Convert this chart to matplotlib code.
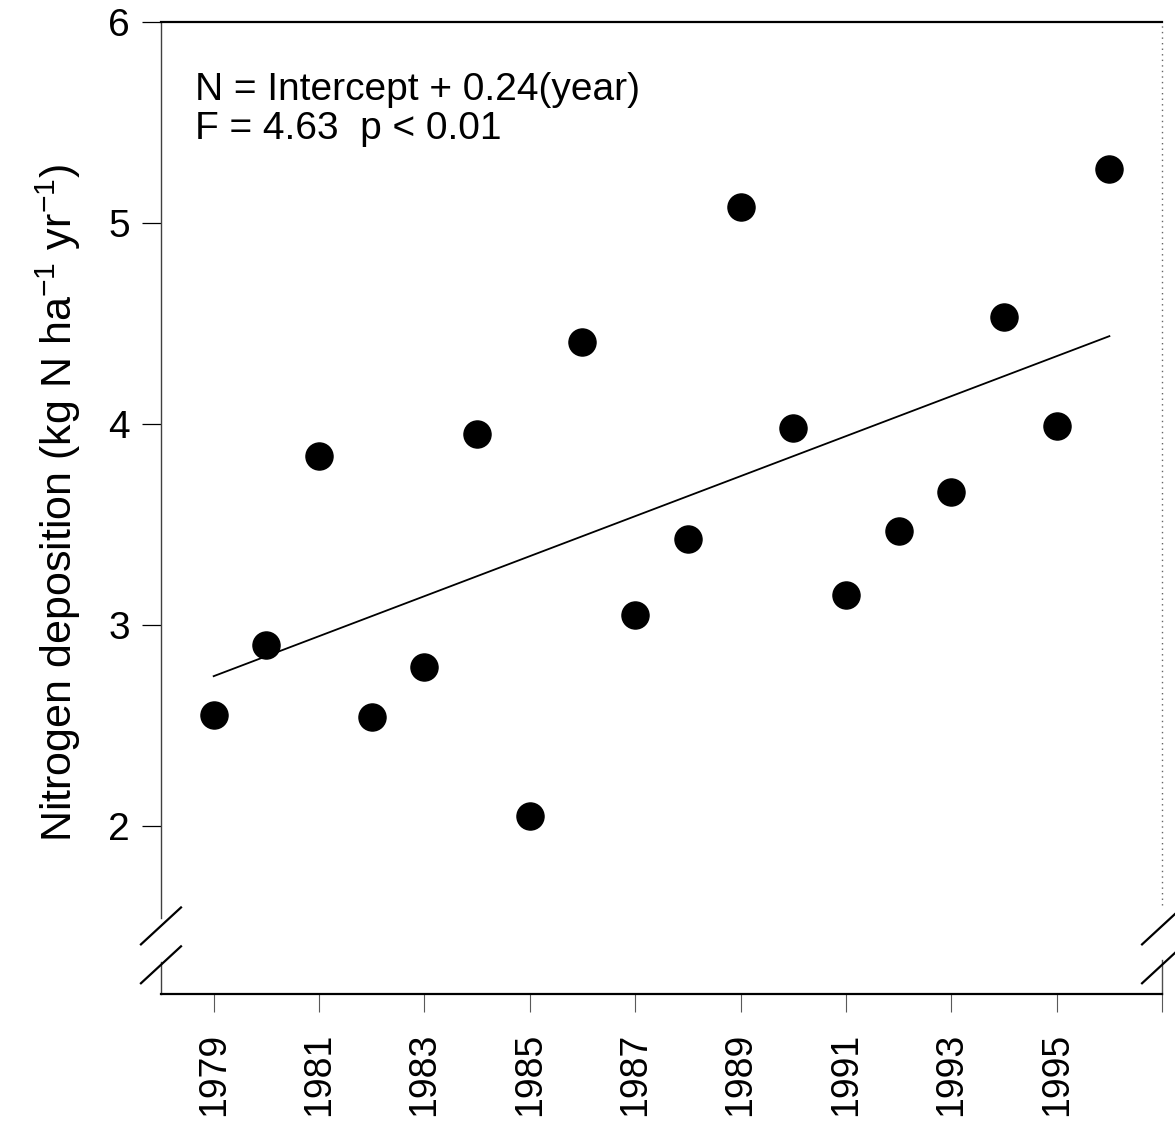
import numpy as np
import matplotlib
matplotlib.use("Agg")
import matplotlib.pyplot as plt

# ── data ────────────────────────────────────────────────
years = [1979, 1980, 1981, 1982, 1983, 1984, 1985, 1986, 1987,
         1988, 1989, 1990, 1991, 1992, 1993, 1994, 1995, 1996]
n_dep = [2.55, 2.90, 3.84, 2.54, 2.79, 3.95, 2.05, 4.41, 3.05,
         3.43, 5.08, 3.98, 3.15, 3.47, 3.66, 4.53, 3.99, 5.27]
x_ticks = [1979, 1981, 1983, 1985, 1987, 1989, 1991, 1993, 1995, 1997]
x_ticklabels = ["1979", "1981", "1983", "1985", "1987", "1989", "1991", "1993", "1995", ""]
y_ticks = [2, 3, 4, 5, 6]
eq_text = "N = Intercept + 0.24(year)\nF = 4.63  p < 0.01"

plt.rcParams["font.family"] = ["Liberation Sans", "DejaVu Sans"]
plt.rcParams["mathtext.fontset"] = "custom"
plt.rcParams["mathtext.rm"] = "Liberation Sans"
plt.rcParams["mathtext.it"] = "Liberation Sans"

fig = plt.figure(figsize=(11.75, 11.3), dpi=100)
ax = fig.add_axes([0.137, 0.1204, 0.852, 0.8601])

ax.plot(years, n_dep, "o", color="black", markersize=19.5, zorder=3)

# regression line
coef = np.polyfit(years, n_dep, 1)
fx = np.array([years[0], years[-1]])
ax.plot(fx, np.polyval(coef, fx), color="black", lw=1.3)

ax.set_xlim(1978, 1997)
ax.set_ylim(1.164, 6)

ax.set_xticks(x_ticks)
ax.set_xticklabels(x_ticklabels, rotation=90, fontsize=27)
ax.set_yticks(y_ticks)
ax.set_yticklabels([str(v) for v in y_ticks], fontsize=28)
ax.tick_params(axis="y", direction="out", length=13.5, width=0.9, pad=9)
ax.tick_params(axis="x", direction="out", length=13, width=0.8, pad=15,
               color="0.35")

ax.set_ylabel("Nitrogen deposition (kg N ha$^{-1}$ yr$^{-1}$)", fontsize=31)
ax.yaxis.set_label_coords(-0.078, 0.505)

ax.text(0.034, 0.9486, eq_text, transform=ax.transAxes, fontsize=28,
        va="top", ha="left", linespacing=1.12)

# frame: left/right spines drawn by hand with axis breaks
for s in ("left", "right"):
    ax.spines[s].set_visible(False)
ax.spines["top"].set_linewidth(1.6)
ax.spines["bottom"].set_linewidth(1.6)

kw = dict(transform=ax.transAxes, clip_on=False)
ax.plot([0, 0], [0.078, 1], color="0.25", lw=1.0, **kw)
ax.plot([0, 0], [0, 0.033], color="0.25", lw=1.0, **kw)
ax.plot([1, 1], [0.092, 1], color="0.4", lw=1.0, ls=(0, (1, 3)), **kw)
ax.plot([1, 1], [0, 0.035], color="0.3", lw=1.0, **kw)

# break marks
dx, dy = 0.04, 0.038
for xc in (0.0, 1.0):
    for yc in (0.070, 0.030):
        ax.plot([xc - dx / 2, xc + dx / 2], [yc - dy / 2, yc + dy / 2],
                color="black", lw=1.6, **kw)

fig.savefig("out.png", dpi=100)
